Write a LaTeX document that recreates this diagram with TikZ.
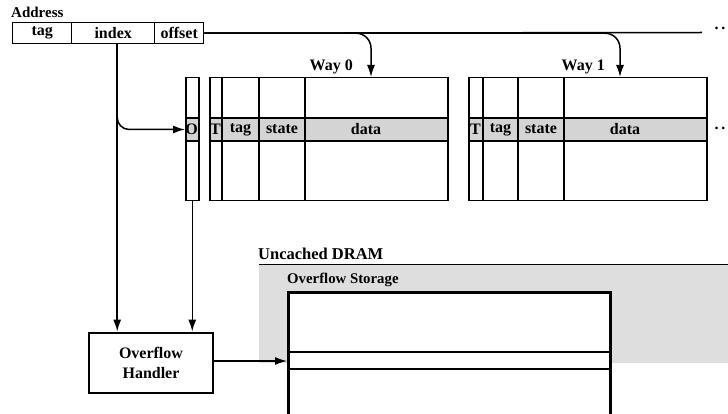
\documentclass[tikz,border=0pt]{standalone}
\usepackage{fontspec}
\setmainfont{Liberation Serif}
\usetikzlibrary{arrows.meta}
\begin{document}
\begin{tikzpicture}[x=1pt,y=-1pt,
  font=\fontsize{16}{17}\selectfont\bfseries,
  ln/.style={line width=1.5pt},
  arr/.style={line width=1.5pt,-{Latex[length=12pt,width=8pt]}},
  fld/.style={draw, line width=1.4pt, inner sep=0pt, anchor=north west, minimum height=21pt},
  tbl/.style={draw, line width=1.5pt, inner sep=0pt, anchor=north west, minimum height=123pt},
  shade/.style={fill=black!17},
  title/.style={font=\fontsize{16}{17}\selectfont\bfseries, inner sep=0pt},
  txt/.style={inner sep=0pt}]
\useasboundingbox (0,0) rectangle (728,414);
\clip (0,0) rectangle (728,414);

% ---- Address
\node[title, anchor=west, font=\fontsize{15}{16}\selectfont\bfseries] (addr) at (11,12) {Address};
\node[fld, minimum width=59pt] (tag) at (12,22) {tag};
\node[fld, minimum width=83pt] (index) at (71,22) {index};
\node[fld, minimum width=49pt] (offset) at (154,22) {offset};

% ---- Way labels
\node[title, anchor=east] (way0) at (353,67) {Way 0};
\node[title, anchor=east] (way1) at (605,67) {Way 1};

% ---- O column
\fill[shade] (185,118) rectangle (198,141);
\node[tbl, minimum width=13pt] (ocol) at (185,77) {};
\draw[ln] (185,118) -- (198,118) (185,141) -- (198,141);
\node[txt] (ocell) at (191.5,129.5) {O};

% ---- Way 0
\fill[shade] (209,118) rectangle (447,141);
\node[tbl, minimum width=238pt] (w0) at (209,77) {};
\draw[ln] (209,118) -- (447,118) (209,141) -- (447,141)
  (222,77) -- (222,200) (259,77) -- (259,200) (305,77) -- (305,200);
\node[txt] (w0T) at (215.5,129.5) {T};
\node[txt] (w0tag) at (240.5,129.5) {tag};
\node[txt] (w0state) at (282,129.5) {state};
\node[txt] (w0data) at (366,129.5) {data};

% ---- Way 1
\fill[shade] (468,118) rectangle (706,141);
\node[tbl, minimum width=238pt] (w1) at (468,77) {};
\draw[ln] (468,118) -- (706,118) (468,141) -- (706,141)
  (483,77) -- (483,200) (518,77) -- (518,200) (564,77) -- (564,200);
\node[txt] (w1T) at (475.5,129.5) {T};
\node[txt] (w1tag) at (500.5,129.5) {tag};
\node[txt] (w1state) at (541,129.5) {state};
\node[txt] (w1data) at (625,129.5) {data};
\node[txt] (dots2) at (720,128) {.\,.};

% ---- offset line and branches
\coordinate (oend) at (702,32.5);
\coordinate (w0in) at (371,77);
\coordinate (w1in) at (620,77);
\draw[ln] (offset.east) -- (oend);
\node[txt] (dots1) at (720,28.5) {.\,.};
\draw[arr, rounded corners=15pt] (offset.east) -| (w0in);
\draw[arr, rounded corners=15pt] (offset.east) -| (w1in);

% ---- DRAM region
\fill[black!13] (259,264) rectangle (728,363);
\draw[line width=1pt] (259,264) -- (728,264);
\node[title, anchor=west, font=\fontsize{16.5}{17}\selectfont\bfseries] (dram) at (258,254) {Uncached DRAM};
\node[title, anchor=west, font=\fontsize{14.8}{16}\selectfont\bfseries] (ostl) at (287,280) {Overflow Storage};
\node[draw, line width=3pt, fill=white, anchor=north west, minimum width=322pt, minimum height=150pt, inner sep=0pt] (stor) at (287,291) {};
\draw[ln] (287,352) -- (609,352) (287,369) -- (609,369);

% ---- Handler
\node[draw, line width=2.8pt, minimum width=124pt, minimum height=60pt, align=center, font=\fontsize{16}{20}\selectfont\bfseries] (hand) at (151,363) {Overflow\\Handler};

% ---- index connectors
\coordinate (idx) at ([xshift=4pt]index.south);
\draw[arr, rounded corners=12pt] (idx) |- (ocol.west |- ocell);
\draw[arr] (idx) -- (idx |- hand.north);
\draw[arr] (ocol.south) -- (ocol.south |- hand.north);
\draw[arr] (hand.east |- 0,361) -- (stor.west |- 0,361);
\end{tikzpicture}
\end{document}
